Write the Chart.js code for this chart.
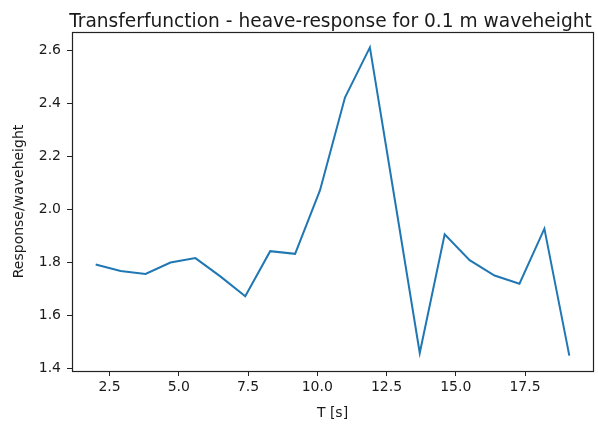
<!DOCTYPE html>
<html>
<head>
<meta charset="utf-8">
<script src="https://cdn.jsdelivr.net/npm/chart.js"></script>
<style>
  body { margin: 0; background: #fff; }
  canvas { display: block; }
</style>
</head>
<body>
<canvas id="heaveChart" width="598" height="424"></canvas>
<script>
// wave periods T [s] and heave response per unit wave height
const periods = [2.0, 2.9, 3.8, 4.7, 5.6, 6.5, 7.4, 8.3, 9.2, 10.1,
                 11.0, 11.9, 12.8, 13.7, 14.6, 15.5, 16.4, 17.3, 18.2, 19.1];
const response = [1.794, 1.769, 1.758, 1.801, 1.818, 1.749, 1.674, 1.844, 1.834, 2.074,
                  2.424, 2.613, 2.038, 1.460, 1.908, 1.810, 1.752, 1.721, 1.929, 1.450];

const xTicks = [2.5, 5.0, 7.5, 10.0, 12.5, 15.0, 17.5];
const yTicks = [1.4, 1.6, 1.8, 2.0, 2.2, 2.4, 2.6];

const titleText = 'Transferfunction - heave-response for 0.1 m waveheight';

// 5% margin around the data, like matplotlib's autoscale
function padRange(arr) {
  const lo = Math.min(...arr), hi = Math.max(...arr);
  const m = (hi - lo) * 0.05;
  return [lo - m, hi + m];
}
const [xMin, xMax] = padRange(periods);
const [yMin, yMax] = padRange(response);

const ink = '#1a1a1a';
Chart.defaults.font.family = '"DejaVu Sans", sans-serif';
Chart.defaults.color = ink;

// frame round the plot area plus a title centred over it
const framePlugin = {
  id: 'frame',
  afterDraw(chart) {
    const { ctx, chartArea: a } = chart;
    ctx.save();
    ctx.strokeStyle = '#222';
    ctx.lineWidth = 1.2;
    ctx.strokeRect(Math.round(a.left) + 0.5, Math.round(a.top) + 0.5,
                   Math.round(a.right - a.left), Math.round(a.bottom - a.top));
    ctx.fillStyle = ink;
    ctx.font = '18.6px "DejaVu Sans"';
    ctx.textAlign = 'center';
    ctx.textBaseline = 'alphabetic';
    ctx.fillText(titleText, (a.left + a.right) / 2 - 2, 26.5);
    ctx.restore();
  }
};

const data = {
  datasets: [{
    label: 'heave',
    data: periods.map((t, i) => ({ x: t, y: response[i] })),
    borderColor: '#1f77b4',
    borderWidth: 2,
    pointRadius: 0,
    tension: 0,
    fill: false
  }]
};

const config = {
  type: 'line',
  data: data,
  options: {
    responsive: false,
    animation: false,
    layout: { padding: { top: 32, right: 5, left: 0, bottom: 0 } },
    plugins: {
      legend: { display: false },
      tooltip: { enabled: false }
    },
    scales: {
      x: {
        type: 'linear',
        min: xMin,
        max: xMax,
        afterBuildTicks: s => { s.ticks = xTicks.map(v => ({ value: v })); },
        afterFit: s => { s.height = 53; },
        ticks: {
          callback: v => v.toFixed(1),
          font: { size: 14 },
          padding: 3,
          maxRotation: 0,
          autoSkip: false
        },
        grid: { drawOnChartArea: false, drawTicks: true, tickLength: 5, color: '#222' },
        border: { display: false },
        title: {
          display: true,
          text: 'T [s]',
          font: { size: 14 },
          padding: { top: 0, bottom: 2 }
        }
      },
      y: {
        type: 'linear',
        min: yMin,
        max: yMax,
        afterBuildTicks: s => { s.ticks = yTicks.map(v => ({ value: v })); },
        afterFit: s => { s.width = 72; },
        ticks: {
          callback: v => v.toFixed(1),
          font: { size: 14 },
          padding: 6,
          autoSkip: false
        },
        grid: { drawOnChartArea: false, drawTicks: true, tickLength: 5, color: '#222' },
        border: { display: false },
        title: {
          display: true,
          text: 'Response/waveheight',
          font: { size: 14 },
          padding: { top: 11, bottom: 0 }
        }
      }
    }
  },
  plugins: [framePlugin]
};

const heaveChart = new Chart(document.getElementById('heaveChart'), config);
</script>
</body>
</html>
